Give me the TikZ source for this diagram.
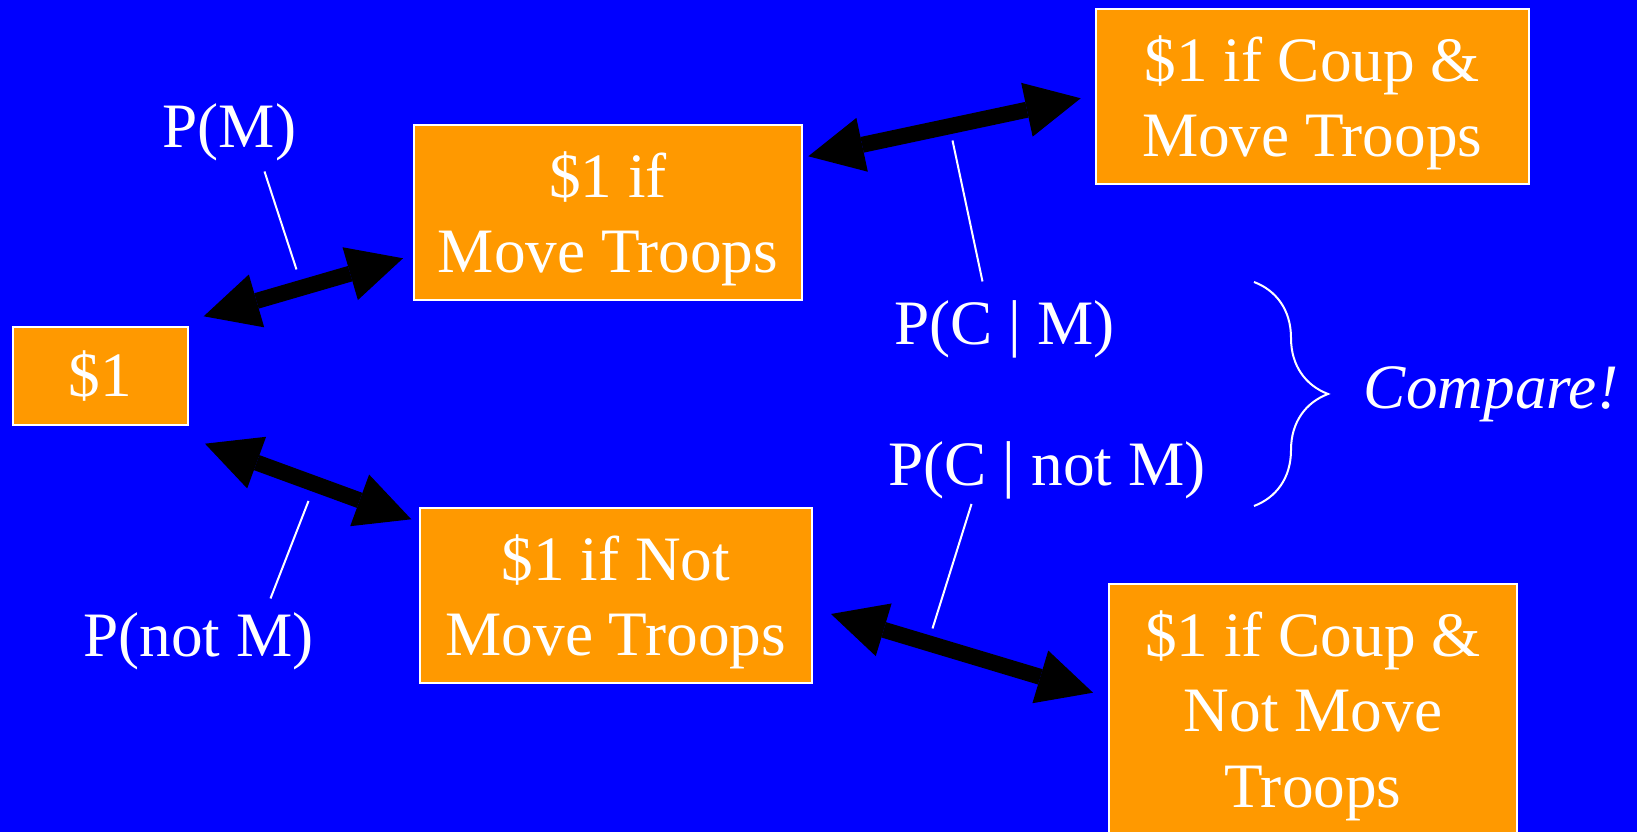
\documentclass[tikz,border=0pt]{standalone}
\usepackage{fontspec}
\setmainfont{Liberation Serif}
\usetikzlibrary{arrows.meta,decorations.pathreplacing}
\definecolor{slideblue}{RGB}{0,0,255}
\definecolor{slideorange}{RGB}{255,153,0}

\begin{document}
\begin{tikzpicture}[font=\fontsize{36}{43}\selectfont,
  box/.style={draw=white,line width=0.04cm,fill=slideorange,inner sep=0pt},
  boxtxt/.style={text=white,align=center,inner sep=0pt,yshift=-0.13cm},
  lbl/.style={text=white,inner sep=0pt},
  dblarrow/.style={{Triangle[length=1.1cm,width=1.1cm,line width=0pt]}-{Triangle[length=1.1cm,width=1.1cm,line width=0pt]},line width=0.32cm,black},
  leader/.style={white,line width=0.04cm}]

\fill[slideblue] (0,0) rectangle (32.74,16.64);
\useasboundingbox (0,0) rectangle (32.74,16.64);
\clip (0,0) rectangle (32.74,16.64);

\node[box,minimum width=3.51cm,minimum height=1.96cm,label={[boxtxt,yshift=0.13cm]center:\$1}] (one) at (2.005,9.12) {};
\node[box,minimum width=7.76cm,minimum height=3.5cm,label={[boxtxt]center:\$1 if\\Move Troops}] (mt) at (12.16,12.39) {};
\node[box,minimum width=7.83cm,minimum height=3.5cm,label={[boxtxt]center:\$1 if Not\\Move Troops}] (nmt) at (12.315,4.73) {};
\node[box,minimum width=8.67cm,minimum height=3.5cm,label={[boxtxt]center:\$1 if Coup \&\\Move Troops}] (cmt) at (26.245,14.71) {};
\node[box,minimum width=8.16cm,minimum height=5.16cm,label={[boxtxt,yshift=0.08cm]center:\$1 if Coup \&\\Not Move\\Troops}] (cnmt) at (26.26,2.38) {};

\draw[dblarrow] ([shift={(0.294,0.194)}]one.north east) -- ([shift={(-0.2,0.854)}]mt.south west);
\draw[dblarrow] ([shift={(0.32,-0.354)}]one.south east) -- ([shift={(-0.154,-0.246)}]nmt.north west);
\draw[dblarrow] ([shift={(0.106,-0.646)}]mt.north east) -- ([shift={(-0.276,-0.036)}]cmt.west);
\draw[dblarrow] ([shift={(0.37,-0.37)}]nmt.east) -- ([shift={(-0.3,0.406)}]cnmt.west);

\node[lbl] (pm) at (4.59,13.99) {P(M)};
\node[lbl] (pnm) at (3.97,3.82) {P(not M)};
\node[lbl] (pcm) at (20.09,10.06) {P(C | M)};
\node[lbl] (pcnm) at (20.94,7.24) {P(C | not M)};

\draw[leader] ([shift={(0.70,-0.78)}]pm.center) -- ([shift={(1.34,-2.74)}]pm.center);
\draw[leader] ([shift={(2.20,2.80)}]pnm.center) -- ([shift={(1.44,0.85)}]pnm.center);
\draw[leader] ([shift={(-1.04,3.77)}]pcm.center) -- ([shift={(-0.44,0.95)}]pcm.center);
\draw[leader] ([shift={(-1.51,-0.68)}]pcnm.center) -- ([shift={(-2.29,-3.17)}]pcnm.center);

% brace over the two conditionals
\draw[leader,decorate,decoration={brace,amplitude=1.48cm}] (25.08,11.00) -- (25.08,6.52);
\node[lbl] (cmp) at (29.82,8.75) {\textit{Compare!}};

\end{tikzpicture}
\end{document}
